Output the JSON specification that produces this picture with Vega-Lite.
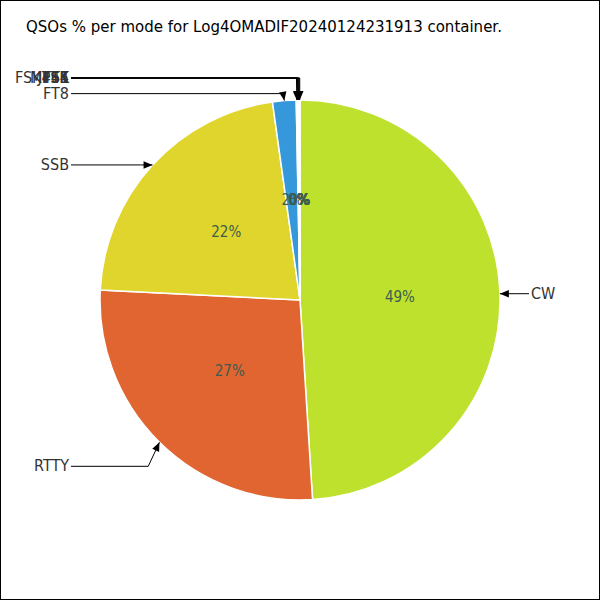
{
  "$schema": "https://vega.github.io/schema/vega-lite/v6.json",
  "width": 600,
  "height": 600,
  "padding": 0,
  "autosize": {"type": "none"},
  "background": "white",
  "config": {"view": {"stroke": "black", "strokeWidth": 2}},
  "title": {
    "text": "QSOs % per mode for Log4OMADIF20240124231913 container.",
    "anchor": "start",
    "dx": 26,
    "offset": -47,
    "baseline": "alphabetic",
    "font": "DejaVu Sans",
    "fontSize": 15,
    "fontWeight": "normal",
    "color": "black"
  },
  "data": {
    "values": [
      {"mode": "CW", "pct": 49.0},
      {"mode": "RTTY", "pct": 26.8},
      {"mode": "SSB", "pct": 22.0},
      {"mode": "FT8", "pct": 1.9},
      {"mode": "FT4", "pct": 0.08},
      {"mode": "JT65", "pct": 0.07},
      {"mode": "MFSK", "pct": 0.06},
      {"mode": "PSK", "pct": 0.05},
      {"mode": "FSK441", "pct": 0.04}
    ]
  },
  "transform": [
    {"window": [{"op": "sum", "field": "pct", "as": "cum"}], "frame": [null, 0]},
    {"calculate": "datum.cum - datum.pct", "as": "start"},
    {"calculate": "(datum.cum - datum.pct / 2) * 2 * PI / 100", "as": "mid"},
    {"calculate": "sin(datum.mid)", "as": "s"},
    {"calculate": "cos(datum.mid)", "as": "c"},
    {"calculate": "datum.s >= 0 ? 1 : -1", "as": "side"},
    {"calculate": "100 * datum.s", "as": "px"},
    {"calculate": "-100 * datum.c", "as": "py"},
    {"calculate": "200 * datum.s", "as": "tx"},
    {"calculate": "-200 * datum.c", "as": "ty"},
    {"calculate": "datum.pct < 0.5 ? datum.ty - 22 : (datum.pct < 5 ? datum.ty - 7 : (datum.ty > 100 ? datum.ty + 24 : datum.ty))", "as": "ly"},
    {"calculate": "datum.tx + datum.side * 16 * abs(datum.s)", "as": "ex"},
    {"calculate": "datum.side * 229", "as": "lx"},
    {"calculate": "datum.side * 231", "as": "textx"},
    {"calculate": "atan2(datum.tx - datum.ex, -(datum.ty - datum.ly)) * 180 / PI", "as": "ang"},
    {"calculate": "format(datum.pct, '.0f') + '%'", "as": "plabel"}
  ],
  "layer": [
    {
      "mark": {"type": "arc", "radius": 200, "stroke": "white", "strokeWidth": 1.5},
      "encoding": {
        "theta": {"field": "start", "type": "quantitative", "scale": {"domain": [0, 100]}},
        "theta2": {"field": "cum"},
        "color": {
          "field": "mode",
          "type": "nominal",
          "legend": null,
          "scale": {
            "domain": ["CW", "RTTY", "SSB", "FT8", "FT4", "JT65", "MFSK", "PSK", "FSK441"],
            "range": ["#bde12d", "#e06530", "#e0d52d", "#3498db", "#f4f4f4", "#e8a0e0", "#c080f0", "#d8e4f8", "#f8f0ff"]
          }
        }
      }
    },
    {
      "mark": {"type": "text", "font": "DejaVu Sans Condensed", "fontSize": 15, "color": "#3d5c50", "baseline": "middle", "align": "center"},
      "encoding": {
        "x": {"field": "px", "type": "quantitative", "axis": null, "scale": {"domain": [-300, 300], "nice": false, "zero": false}},
        "y": {"field": "py", "type": "quantitative", "axis": null, "scale": {"domain": [-300, 300], "nice": false, "zero": false, "reverse": true}},
        "text": {"field": "plabel"}
      }
    },
    {
      "mark": {"type": "rule", "color": "black", "strokeWidth": 1},
      "encoding": {
        "x": {"field": "lx", "type": "quantitative"},
        "x2": {"field": "ex"},
        "y": {"field": "ly", "type": "quantitative"},
        "y2": {"field": "ly"}
      }
    },
    {
      "mark": {"type": "rule", "color": "black", "strokeWidth": 1},
      "encoding": {
        "x": {"field": "ex", "type": "quantitative"},
        "x2": {"field": "tx"},
        "y": {"field": "ly", "type": "quantitative"},
        "y2": {"field": "ty"}
      }
    },
    {
      "mark": {"type": "point", "shape": "M0,0L-0.42,1L0.42,1Z", "filled": true, "color": "black", "size": 320, "opacity": 1, "strokeWidth": 0},
      "encoding": {
        "x": {"field": "tx", "type": "quantitative"},
        "y": {"field": "ty", "type": "quantitative"},
        "angle": {"field": "ang", "type": "quantitative", "scale": null}
      }
    },
    {
      "transform": [{"filter": "datum.side < 0"}],
      "mark": {"type": "text", "align": "right", "baseline": "middle", "font": "DejaVu Sans Condensed", "fontSize": 16, "color": "#333333"},
      "encoding": {
        "x": {"field": "textx", "type": "quantitative"},
        "y": {"field": "ly", "type": "quantitative"},
        "text": {"field": "mode"}
      }
    },
    {
      "transform": [{"filter": "datum.side > 0"}],
      "mark": {"type": "text", "align": "left", "baseline": "middle", "font": "DejaVu Sans Condensed", "fontSize": 16, "color": "#333333"},
      "encoding": {
        "x": {"field": "textx", "type": "quantitative"},
        "y": {"field": "ly", "type": "quantitative"},
        "text": {"field": "mode"}
      }
    }
  ]
}
